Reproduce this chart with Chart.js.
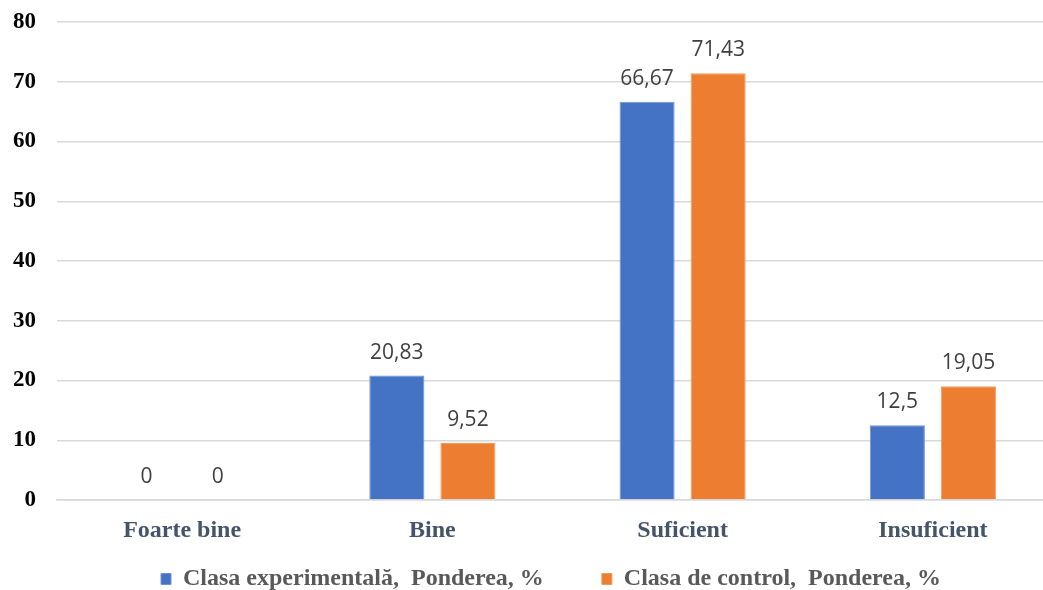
<!DOCTYPE html>
<html>
<head>
<meta charset="utf-8">
<script src="https://cdn.jsdelivr.net/npm/chart.js@4/dist/chart.umd.min.js"></script>
<style>
  html, body { margin: 0; padding: 0; background: #fff; overflow: hidden; }
  #wrap { position: relative; width: 1058px; height: 590px; }
</style>
</head>
<body>
<div id="wrap"><canvas id="chart"></canvas></div>
<script>
const categories = ["Foarte bine", "Bine", "Suficient", "Insuficient"];
const experimental = [0, 20.83, 66.67, 12.5];
const control = [0, 9.52, 71.43, 19.05];
const seriesNames = ["Clasa experimentală,  Ponderea, %", "Clasa de control,  Ponderea, %"];

const SERIF = "'Liberation Serif', 'Times New Roman', serif";

/* valoarea deasupra fiecarei coloane */
const valueLabels = {
  id: "valueLabels",
  afterDatasetsDraw(chart) {
    const ctx = chart.ctx;
    ctx.save();
    ctx.font = "21px 'Open Sans', sans-serif";
    ctx.fillStyle = "#404040";
    ctx.textAlign = "center";
    ctx.textBaseline = "alphabetic";
    chart.data.datasets.forEach((ds, i) => {
      chart.getDatasetMeta(i).data.forEach((bar, j) => {
        ctx.fillText(String(ds.data[j]).replace(".", ","), bar.x, bar.y - 17);
      });
    });
    ctx.restore();
  }
};

/* legenda mutata putin spre dreapta si in jos */
const legendShift = {
  id: "legendShift",
  afterLayout(chart) {
    const lg = chart.legend;
    lg.left += 22;
    lg.right += 22;
    lg.top += 11;
    lg.bottom += 11;
  }
};

new Chart(document.getElementById("chart"), {
  type: "bar",
  data: {
    labels: categories,
    datasets: [
      { label: seriesNames[0], data: experimental, backgroundColor: "#4472C4", borderColor: "#6f93d4", borderWidth: 1 },
      { label: seriesNames[1], data: control, backgroundColor: "#ED7D31", borderColor: "#f29a5c", borderWidth: 1 }
    ]
  },
  options: {
    responsive: true,
    maintainAspectRatio: false,
    animation: false,
    categoryPercentage: 0.568,
    barPercentage: 0.775,
    layout: { padding: { left: 0, right: 0, top: 22, bottom: 0 } },
    plugins: {
      tooltip: { enabled: false },
      legend: {
        position: "bottom",
        labels: {
          font: { family: SERIF, size: 24, weight: "bold" },
          color: "#595959",
          boxWidth: 10,
          boxHeight: 11,
          padding: 10,
          generateLabels(chart) {
            const items = Chart.defaults.plugins.legend.labels.generateLabels(chart);
            items[0].text += "        ";
            return items;
          }
        }
      }
    },
    scales: {
      x: {
        grid: { display: false },
        border: { color: "#d9d9d9", width: 1.5 },
        afterFit(scale) { scale.height = 46; },
        ticks: {
          font: { family: SERIF, size: 24, weight: "bold" },
          color: "#44546A",
          padding: 8
        }
      },
      y: {
        min: 0,
        max: 80,
        afterFit(scale) {
          scale.width = 57;
          scale.paddingTop = 0;
          scale.paddingBottom = 0;
        },
        ticks: {
          stepSize: 10,
          font: { family: SERIF, size: 23, weight: "bold" },
          color: "#000",
          padding: 21
        },
        grid: { color: "#d9d9d9", lineWidth: 1.5, drawTicks: false },
        border: { display: false }
      }
    }
  },
  plugins: [valueLabels, legendShift]
});
</script>
</body>
</html>
